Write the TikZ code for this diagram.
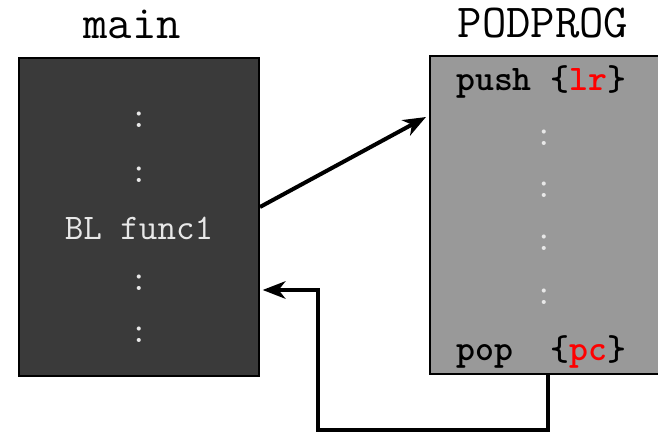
\documentclass[tikz,border=0pt]{standalone}
\usepackage{fontspec}
\usetikzlibrary{arrows.meta}
\definecolor{maingray}{HTML}{3A3A3A}
\definecolor{podgray}{HTML}{999999}
\definecolor{dotwhite}{HTML}{E8E8E8}
\begin{document}
\begin{tikzpicture}[x=0.75pt,y=-0.75pt,
  title/.style={font=\ttfamily\fontsize{35.5}{35.5}\selectfont, text=black, inner sep=0pt},
  boxtext/.style={font=\ttfamily\fontsize{27}{27}\selectfont, inner sep=0pt},
  codetext/.style={font=\ttfamily\bfseries\fontsize{27}{27}\selectfont, inner sep=0pt, anchor=west},
  memblock/.style={draw=black, line width=1.5pt, minimum width=180pt, inner sep=0pt},
  conn/.style={line width=3pt, -{Stealth[length=17pt,width=13pt,inset=5pt]}}]
\useasboundingbox (0,0) rectangle (658,434);
\clip (0,0) rectangle (658,434);
\node[memblock, fill=maingray, minimum height=238.5pt] (main) at (139,217) {};
\node[memblock, fill=podgray, minimum width=176pt, minimum height=238.5pt] (pod) at (547,215) {};
\node[title] (tmain) at (132,24) {main};
\node[title] (tpod) at (543,23) {PODPROG};
\node[boxtext, text=dotwhite] (m1) at (139,120) {:};
\node[boxtext, text=dotwhite] (m2) at (139,175) {:};
\node[boxtext, text=dotwhite] (bl) at (139,228) {BL func1};
\node[boxtext, text=dotwhite] (m3) at (139,283) {:};
\node[boxtext, text=dotwhite] (m4) at (139,335) {:};
\node[codetext] (push) at (456,82) {push \{\textcolor{red}{lr}\}};
\node[boxtext, text=dotwhite] (p1) at (544,138) {:};
\node[boxtext, text=dotwhite] (p2) at (544,190) {:};
\node[boxtext, text=dotwhite] (p3) at (544,243) {:};
\node[boxtext, text=dotwhite] (p4) at (544,297) {:};
\node[codetext] (pop) at (456,352) {pop\ \ \{\textcolor{red}{pc}\}};
\coordinate (callstart) at (main.east |- 0,207);
\coordinate (callend) at (pod.west |- 0,117);
\draw[conn] (callstart) -- ([xshift=-2pt]callend);
\coordinate (retstart) at (548,374);
\coordinate (retend) at ([xshift=2pt]main.east |- 0,290);
\draw[conn] (retstart) |- (318,430) |- (retend);
\end{tikzpicture}
\end{document}
